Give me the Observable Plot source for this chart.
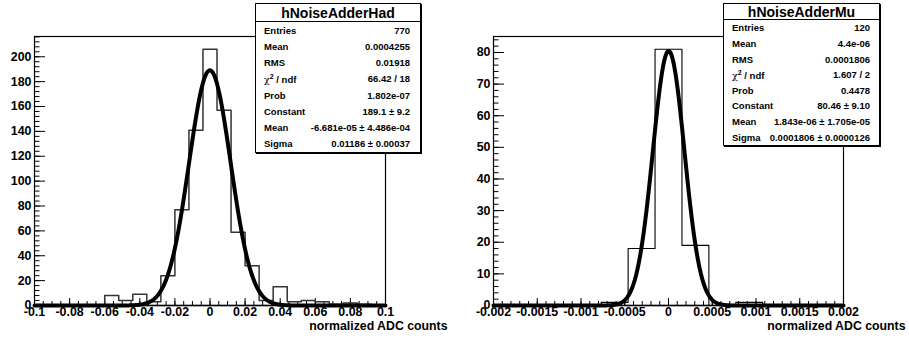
<!DOCTYPE html>
<html><head><meta charset="utf-8">
<script src="https://cdn.jsdelivr.net/npm/d3@7"></script>
<script src="https://cdn.jsdelivr.net/npm/@observablehq/plot@0.6"></script>
<style>
body{margin:0;background:#fff;}
#wrap{position:relative;width:909px;height:341px;overflow:hidden;font-family:"Liberation Sans",Arial,Helvetica,sans-serif;}
.panel{position:absolute;top:0;}
.panel text{font-weight:bold;font-family:"Liberation Sans",Arial,Helvetica,sans-serif;fill:#000;}
.stats{position:absolute;background:#fff;border:1px solid #000;box-shadow:1px 1px 0 #000;font-weight:bold;color:#000;box-sizing:border-box;display:flex;flex-direction:column;}
.stats .title{text-align:center;font-size:14px;border-bottom:1px solid #000;display:flex;align-items:center;justify-content:center;flex:none;}
.stats .row{display:flex;justify-content:space-between;align-items:center;font-size:9.5px;flex:1;}
.chi{font-weight:normal;font-family:"DejaVu Serif",serif;}
</style></head>
<body>
<div id="wrap"></div>
<script>
// ---- data ----
const xLabel = "normalized ADC counts";

const hadName = "hNoiseAdderHad";
const hadRange = [-0.1, 0.1];
const hadCounts = [0,0,0,0,0,8,4,9,3,24,77,141,206,157,59,32,4,15,3,4,3,1,2,1,0];
const hadFit = [189.1, -6.681e-05, 0.01186]; // constant, mean, sigma
const hadXTicks = [-0.1,-0.08,-0.06,-0.04,-0.02,0,0.02,0.04,0.06,0.08,0.1];
const hadYTicks = [0,20,40,60,80,100,120,140,160,180,200];
const hadStatLabels = ["Entries","Mean","RMS","χ² / ndf","Prob","Constant","Mean","Sigma"];
const hadStatValues = ["770","0.0004255","0.01918","66.42 / 18","1.802e-07","189.1 ± 9.2","-6.681e-05 ± 4.486e-04","0.01186 ± 0.00037"];

const muName = "hNoiseAdderMu";
const muRange = [-0.002, 0.002];
const muCounts = [0,0,0,0,1,18,81,19,0,1,0,0,0];
const muFit = [80.46, 1.843e-06, 0.0001806];
const muXTicks = [-0.002,-0.0015,-0.001,-0.0005,0,0.0005,0.001,0.0015,0.002];
const muYTicks = [0,10,20,30,40,50,60,70,80];
const muStatLabels = ["Entries","Mean","RMS","χ² / ndf","Prob","Constant","Mean","Sigma"];
const muStatValues = ["120","4.4e-06","0.0001806","1.607 / 2","0.4478","80.46 ± 9.10","1.843e-06 ± 1.705e-05","0.0001806 ± 0.0000126"];

// ---- drawing ----
function panel({counts, range, fit, xTicks, xMinorStep, yTicks, yMinorStep, width, ml, mr, histStroke, histWidth}) {
  const [lo, hi] = range;
  const n = counts.length, w = (hi - lo) / n;
  const yMax = 1.05 * d3.max(counts);
  const steps = counts.map((c, i) => ({x: lo + i * w, y: c}));
  steps.push({x: hi, y: counts[n - 1]});
  const fitLine = d3.range(0, 801).map(i => {
    const x = lo + (hi - lo) * i / 800;
    return {x, y: fit[0] * Math.exp(-0.5 * ((x - fit[1]) / fit[2]) ** 2)};
  });
  const mt = 36, mb = 36, H = 341;
  const plotH = H - mt - mb, plotW = width - ml - mr;
  const ky = yMax / plotH, kx = (hi - lo) / plotW;
  const xMinor = d3.range(0, Math.round((hi - lo) / xMinorStep) + 1).map(i => lo + i * xMinorStep);
  const yMinor = d3.range(0, Math.floor(yMax / yMinorStep) + 1).map(i => i * yMinorStep);
  return Plot.plot({
    width, height: H, marginLeft: ml, marginRight: mr, marginTop: mt, marginBottom: mb,
    x: {domain: range, ticks: xTicks, tickFormat: d => String(d), tickSize: 0, tickPadding: 2, label: null},
    y: {domain: [0, yMax], ticks: yTicks, tickFormat: d => String(d), tickSize: 0, tickPadding: 3, label: null},
    style: {fontFamily: '"Liberation Sans", Arial, Helvetica, sans-serif', fontSize: "12.4px", fontWeight: "bold", color: "#000", background: "transparent", overflow: "visible"},
    marks: [
      Plot.ruleX(xTicks, {x: d => d, y1: 0, y2: 7 * ky, stroke: "#000"}),
      Plot.ruleX(xMinor, {x: d => d, y1: 0, y2: 4 * ky, stroke: "#000"}),
      Plot.ruleY(yTicks, {y: d => d, x1: lo, x2: lo + 11 * kx, stroke: "#000"}),
      Plot.ruleY(yMinor, {y: d => d, x1: lo, x2: lo + 5.5 * kx, stroke: "#000"}),
      Plot.line(steps, {x: "x", y: "y", curve: "step-after", stroke: histStroke, strokeWidth: histWidth}),
      Plot.frame({stroke: "#000", strokeWidth: 1.2}),
      Plot.ruleY([0], {stroke: "#000", strokeWidth: 1.5}),
      Plot.line(fitLine, {x: "x", y: "y", stroke: "#000", strokeWidth: 4}),
      Plot.text([xLabel], {frameAnchor: "bottom-right", dx: 62, dy: 24, textAnchor: "end", fontSize: 12.3, fontWeight: "bold"})
    ]
  });
}

function statsBox(name, labels, values, {left, top, width, height, titleH, padL, padR}) {
  const box = document.createElement("div");
  box.className = "stats";
  Object.assign(box.style, {left: left + "px", top: top + "px", width: width + "px", height: height + "px"});
  const t = document.createElement("div");
  t.className = "title"; t.textContent = name; t.style.height = titleH + "px";
  box.appendChild(t);
  labels.forEach((lab, i) => {
    const r = document.createElement("div");
    r.className = "row";
    r.style.padding = `0 ${padR}px 0 ${padL}px`;
    const a = document.createElement("span");
    if (lab.startsWith("χ")) {
      a.innerHTML = '<span class="chi">χ</span><sup style="font-size:7px">2</sup> / ndf';
    } else a.textContent = lab;
    const b = document.createElement("span");
    b.textContent = values[i];
    r.appendChild(a); r.appendChild(b);
    box.appendChild(r);
  });
  return box;
}

const wrap = document.getElementById("wrap");
const p1 = panel({counts: hadCounts, range: hadRange, fit: hadFit, xTicks: hadXTicks, xMinorStep: 0.005,
  yTicks: hadYTicks, yMinorStep: 4, width: 455, ml: 34, mr: 70, histStroke: "#333", histWidth: 1.5});
p1.classList.add("panel"); p1.style.left = "0px";
wrap.appendChild(p1);
const p2 = panel({counts: muCounts, range: muRange, fit: muFit, xTicks: muXTicks, xMinorStep: 0.0001,
  yTicks: muYTicks, yMinorStep: 2, width: 454, ml: 38, mr: 66, histStroke: "#000", histWidth: 1.1});
p2.classList.add("panel"); p2.style.left = "455px";
wrap.appendChild(p2);

wrap.appendChild(statsBox(hadName, hadStatLabels, hadStatValues, {left: 255, top: 3, width: 166, height: 150, titleH: 17, padL: 8, padR: 10}));
wrap.appendChild(statsBox(muName, muStatLabels, muStatValues, {left: 723, top: 3, width: 157, height: 143, titleH: 15, padL: 8, padR: 9}));
</script>
</body></html>
